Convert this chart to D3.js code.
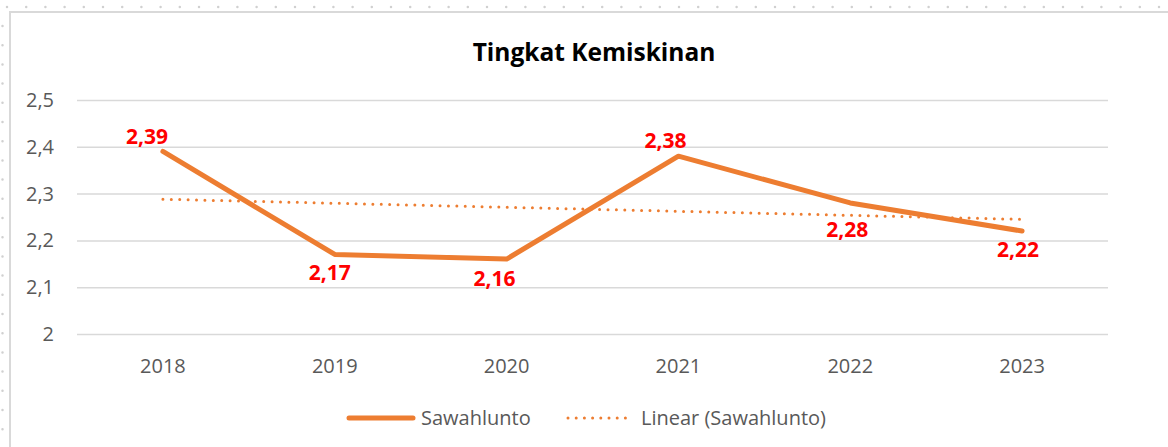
<!DOCTYPE html>
<html>
<head>
<meta charset="utf-8">
<script src="https://cdn.jsdelivr.net/npm/d3@7"></script>
<style>
  body { margin: 0; background: #fff; }
  text { font-family: "Open Sans", "Noto Sans", sans-serif; }
</style>
</head>
<body>
<svg width="1168" height="447"></svg>
<script>
var years = ["2018", "2019", "2020", "2021", "2022", "2023"];
var values = [2.39, 2.17, 2.16, 2.38, 2.28, 2.22];
// trend line (start at 2018, end at 2023)
var trendYears = ["2018", "2023"];
var trendValues = [2.288, 2.245];
var yTicks = [2, 2.1, 2.2, 2.3, 2.4, 2.5];
var seriesName = "Sawahlunto";
var trendName = "Linear (Sawahlunto)";

// label nudges (dx, dy from the point), labels were hand placed in the original
var labelNudge = [[-16, -7], [-5, 26], [-12, 27], [-13, -8], [-3, 34], [-4, 26]];

var orange = "#ED7D31";
var grey = "#595959";

var svg = d3.select("svg"),
    width = +svg.attr("width"),
    height = +svg.attr("height");

var loc = d3.formatLocale({decimal: ",", thousands: ".", grouping: [3], currency: ["", ""]});
var fmtTick = loc.format(".1~f");
var fmtLabel = loc.format(".2f");

// outer dotted frame + chart border
svg.append("line")
    .attr("x1", 7).attr("x2", width).attr("y1", 7).attr("y2", 7)
    .attr("stroke", "#d0d0d0").attr("stroke-width", 2.5)
    .attr("stroke-linecap", "round").attr("stroke-dasharray", "0 19.2");
svg.append("line")
    .attr("x1", 2.5).attr("x2", 2.5).attr("y1", 26).attr("y2", height)
    .attr("stroke", "#d0d0d0").attr("stroke-width", 2.5)
    .attr("stroke-linecap", "round").attr("stroke-dasharray", "0 19.2");
svg.append("path")
    .attr("d", "M10," + height + "V12H" + width)
    .attr("fill", "none").attr("stroke", "#d9d9d9").attr("stroke-width", 2);

var x = d3.scaleBand().domain(years).range([77, 1108]).padding(0);
var y = d3.scaleLinear().domain([2, 2.5]).range([334, 100]);
var cx = function(d) { return x(d) + x.bandwidth() / 2; };

// title
svg.append("text")
    .attr("x", 594).attr("y", 61)
    .attr("text-anchor", "middle")
    .attr("font-size", 24.5).attr("font-weight", "bold")
    .attr("fill", "#000")
    .text("Tingkat Kemiskinan");

// y axis (gridlines + labels)
var yAxis = svg.append("g")
    .call(d3.axisLeft(y).tickValues(yTicks).tickSize(-(1108 - 77)).tickPadding(23).tickFormat(fmtTick))
    .attr("transform", "translate(77,0)");
yAxis.select(".domain").remove();
yAxis.selectAll(".tick line").attr("stroke", "#d9d9d9").attr("stroke-width", 1.5);
yAxis.selectAll(".tick text")
    .attr("fill", grey).attr("font-size", 20)
    .attr("font-family", "'Open Sans', sans-serif");

// x axis labels
var xAxis = svg.append("g")
    .attr("transform", "translate(0,334)")
    .call(d3.axisBottom(x).tickSize(0).tickPadding(25));
xAxis.select(".domain").remove();
xAxis.selectAll(".tick text")
    .attr("fill", grey).attr("font-size", 20)
    .attr("font-family", "'Open Sans', sans-serif");

// series line
var line = d3.line()
    .x(function(d, i) { return cx(years[i]); })
    .y(function(d) { return y(d); });

svg.append("path")
    .datum(values)
    .attr("d", line)
    .attr("fill", "none")
    .attr("stroke", orange)
    .attr("stroke-width", 5)
    .attr("stroke-linecap", "round")
    .attr("stroke-linejoin", "round");

// trend line
var trendLine = d3.line()
    .x(function(d, i) { return cx(trendYears[i]); })
    .y(function(d) { return y(d); });

svg.append("path")
    .datum(trendValues)
    .attr("d", trendLine)
    .attr("fill", "none")
    .attr("stroke", orange)
    .attr("stroke-width", 3)
    .attr("stroke-linecap", "round")
    .attr("stroke-dasharray", "0 8.4");

// data labels
svg.append("g")
    .selectAll("text")
    .data(values)
    .enter().append("text")
    .attr("x", function(d, i) { return cx(years[i]) + labelNudge[i][0]; })
    .attr("y", function(d, i) { return y(d) + labelNudge[i][1]; })
    .attr("text-anchor", "middle")
    .attr("font-size", 21)
    .attr("font-weight", "bold")
    .attr("fill", "#ff0000")
    .text(function(d) { return fmtLabel(d); });

// legend
var legend = svg.append("g").attr("transform", "translate(0,418)");
legend.append("line")
    .attr("x1", 349).attr("x2", 413)
    .attr("stroke", orange).attr("stroke-width", 5).attr("stroke-linecap", "round");
legend.append("text")
    .attr("x", 421).attr("y", 7)
    .attr("fill", grey).attr("font-size", 20)
    .text(seriesName);
legend.append("line")
    .attr("x1", 568).attr("x2", 633)
    .attr("stroke", orange).attr("stroke-width", 3)
    .attr("stroke-linecap", "round").attr("stroke-dasharray", "0 8.2");
legend.append("text")
    .attr("x", 641).attr("y", 7)
    .attr("fill", grey).attr("font-size", 20)
    .text(trendName);
</script>
</body>
</html>
